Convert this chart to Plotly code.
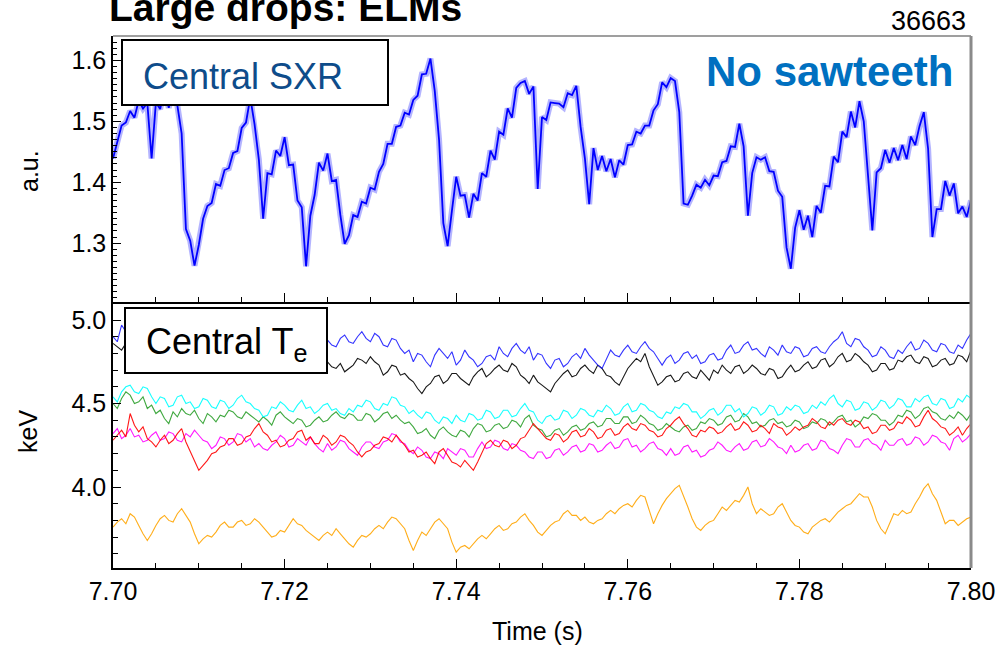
import numpy as np
import plotly.graph_objects as go

# ---- data -------------------------------------------------------------
# central soft X-ray signal (a.u.), sampled every 0.5 ms from 7.700 s
sxr_t0, sxr_dt = 7.700, 0.0005
sxr = [
    1.439, 1.467, 1.493, 1.498, 1.517, 1.506, 1.534, 1.521, 1.530, 1.439,
    1.531, 1.520, 1.556, 1.522, 1.563, 1.526, 1.480, 1.323, 1.304, 1.263,
    1.297, 1.340, 1.361, 1.366, 1.397, 1.394, 1.420, 1.423, 1.448, 1.451,
    1.489, 1.498, 1.539, 1.495, 1.437, 1.340, 1.415, 1.413, 1.452, 1.443,
    1.474, 1.428, 1.429, 1.370, 1.359, 1.262, 1.345, 1.379, 1.432, 1.419,
    1.447, 1.402, 1.404, 1.346, 1.299, 1.313, 1.346, 1.343, 1.368, 1.365,
    1.391, 1.388, 1.417, 1.430, 1.463, 1.463, 1.491, 1.493, 1.514, 1.511,
    1.535, 1.542, 1.577, 1.578, 1.603, 1.550, 1.470, 1.333, 1.295, 1.353,
    1.409, 1.378, 1.379, 1.342, 1.381, 1.370, 1.415, 1.409, 1.452, 1.437,
    1.483, 1.478, 1.521, 1.506, 1.555, 1.563, 1.566, 1.545, 1.557, 1.389,
    1.507, 1.502, 1.531, 1.530, 1.529, 1.523, 1.546, 1.543, 1.558, 1.491,
    1.439, 1.364, 1.456, 1.420, 1.443, 1.418, 1.438, 1.408, 1.436, 1.429,
    1.461, 1.462, 1.483, 1.480, 1.493, 1.493, 1.518, 1.528, 1.564, 1.556,
    1.571, 1.566, 1.515, 1.365, 1.363, 1.378, 1.396, 1.391, 1.404, 1.395,
    1.411, 1.410, 1.433, 1.435, 1.459, 1.458, 1.496, 1.459, 1.345, 1.415,
    1.441, 1.437, 1.441, 1.418, 1.417, 1.386, 1.376, 1.293, 1.258, 1.325,
    1.354, 1.322, 1.345, 1.310, 1.361, 1.350, 1.394, 1.393, 1.442, 1.433,
    1.483, 1.474, 1.516, 1.490, 1.533, 1.500, 1.415, 1.321, 1.416, 1.423,
    1.453, 1.432, 1.456, 1.436, 1.461, 1.438, 1.475, 1.461, 1.492, 1.515,
    1.455, 1.310, 1.356, 1.356, 1.402, 1.378, 1.398, 1.349, 1.360, 1.343,
    1.370,
]

# central electron temperature channels (keV), sampled every 0.5 ms
te_t0, te_dt = 7.700, 0.0005
te_blue = [
    4.90, 4.87, 4.97, 4.93, 4.88, 4.85, 4.93, 4.95, 4.86, 4.83,
    4.90, 4.93, 4.84, 4.87, 4.89, 4.84, 4.86, 4.89, 4.91, 4.87,
    4.85, 4.82, 4.88, 4.91, 4.83, 4.86, 4.90, 4.86, 4.86, 4.89,
    4.84, 4.88, 4.89, 4.86, 4.85, 4.90, 4.88, 4.84, 4.83, 4.86,
    4.87, 4.83, 4.84, 4.88, 4.89, 4.86, 4.85, 4.81, 4.82, 4.86,
    4.88, 4.85, 4.84, 4.89, 4.91, 4.87, 4.86, 4.90, 4.93, 4.89,
    4.87, 4.92, 4.90, 4.85, 4.84, 4.89, 4.88, 4.83, 4.80, 4.82,
    4.75, 4.80, 4.79, 4.75, 4.72, 4.79, 4.83, 4.80, 4.77, 4.81,
    4.73, 4.76, 4.82, 4.78, 4.76, 4.72, 4.74, 4.78, 4.79, 4.76,
    4.84, 4.80, 4.78, 4.83, 4.86, 4.82, 4.80, 4.84, 4.76, 4.80,
    4.79, 4.74, 4.71, 4.76, 4.77, 4.72, 4.74, 4.78, 4.80, 4.77,
    4.83, 4.79, 4.76, 4.73, 4.71, 4.77, 4.82, 4.79, 4.78, 4.82,
    4.85, 4.81, 4.80, 4.84, 4.87, 4.83, 4.81, 4.77, 4.73, 4.77,
    4.79, 4.74, 4.76, 4.80, 4.81, 4.77, 4.79, 4.74, 4.75, 4.79,
    4.80, 4.76, 4.77, 4.82, 4.85, 4.80, 4.81, 4.85, 4.87, 4.82,
    4.83, 4.80, 4.78, 4.84, 4.82, 4.79, 4.85, 4.81, 4.80, 4.84,
    4.83, 4.78, 4.79, 4.83, 4.84, 4.81, 4.80, 4.84, 4.87, 4.89,
    4.93, 4.86, 4.84, 4.89, 4.88, 4.84, 4.82, 4.78, 4.79, 4.84,
    4.82, 4.78, 4.77, 4.82, 4.80, 4.84, 4.87, 4.82, 4.83, 4.88,
    4.86, 4.82, 4.81, 4.86, 4.85, 4.81, 4.80, 4.85, 4.83, 4.88,
    4.92,
]
te_black = [
    4.86, 4.84, 4.82, 4.86, 4.88, 4.83, 4.80, 4.85, 4.83, 4.80,
    4.78, 4.82, 4.81, 4.79, 4.77, 4.81, 4.80, 4.77, 4.76, 4.80,
    4.79, 4.77, 4.75, 4.79, 4.78, 4.76, 4.81, 4.78, 4.76, 4.80,
    4.79, 4.76, 4.74, 4.77, 4.78, 4.76, 4.75, 4.80, 4.79, 4.77,
    4.76, 4.79, 4.80, 4.77, 4.75, 4.79, 4.78, 4.74, 4.73, 4.77,
    4.75, 4.72, 4.71, 4.74, 4.69, 4.71, 4.73, 4.77, 4.76, 4.74,
    4.78, 4.75, 4.73, 4.67, 4.69, 4.73, 4.72, 4.67, 4.68, 4.65,
    4.63, 4.59, 4.56, 4.60, 4.62, 4.66, 4.67, 4.62, 4.64, 4.68,
    4.68, 4.65, 4.63, 4.61, 4.66, 4.69, 4.71, 4.66, 4.68, 4.71,
    4.73, 4.70, 4.69, 4.74, 4.72, 4.67, 4.65, 4.62, 4.67, 4.63,
    4.61, 4.59, 4.57, 4.62, 4.65, 4.68, 4.70, 4.66, 4.67, 4.71,
    4.73, 4.70, 4.68, 4.73, 4.71, 4.67, 4.66, 4.63, 4.61, 4.66,
    4.71, 4.74, 4.77, 4.75, 4.80, 4.72, 4.66, 4.61, 4.63, 4.66,
    4.67, 4.63, 4.64, 4.68, 4.69, 4.66, 4.65, 4.70, 4.67, 4.64,
    4.70, 4.68, 4.73, 4.70, 4.68, 4.72, 4.73, 4.68, 4.70, 4.73,
    4.71, 4.68, 4.67, 4.71, 4.70, 4.65, 4.66, 4.70, 4.73, 4.69,
    4.70, 4.73, 4.75, 4.71, 4.72, 4.76, 4.77, 4.72, 4.74, 4.78,
    4.80, 4.75, 4.76, 4.80, 4.78, 4.75, 4.73, 4.69, 4.70, 4.74,
    4.74, 4.70, 4.71, 4.76, 4.75, 4.78, 4.79, 4.75, 4.74, 4.78,
    4.77, 4.72, 4.73, 4.76, 4.77, 4.73, 4.74, 4.79, 4.78, 4.75,
    4.82,
]
te_cyan = [
    4.54, 4.51, 4.57, 4.60, 4.61, 4.57, 4.56, 4.60, 4.59, 4.54,
    4.50, 4.54, 4.53, 4.48, 4.49, 4.54, 4.55, 4.50, 4.51, 4.47,
    4.48, 4.53, 4.52, 4.48, 4.47, 4.52, 4.51, 4.47, 4.49, 4.53,
    4.55, 4.51, 4.50, 4.47, 4.46, 4.42, 4.43, 4.48, 4.47, 4.51,
    4.49, 4.46, 4.45, 4.49, 4.52, 4.47, 4.48, 4.44, 4.46, 4.49,
    4.50, 4.46, 4.47, 4.44, 4.43, 4.47, 4.45, 4.49, 4.48, 4.52,
    4.51, 4.47, 4.46, 4.50, 4.49, 4.54, 4.53, 4.49, 4.48, 4.44,
    4.46, 4.43, 4.41, 4.45, 4.44, 4.40, 4.38, 4.42, 4.41, 4.38,
    4.43, 4.40, 4.39, 4.44, 4.43, 4.40, 4.41, 4.46, 4.45, 4.41,
    4.42, 4.46, 4.46, 4.42, 4.43, 4.47, 4.50, 4.46, 4.45, 4.40,
    4.38, 4.42, 4.43, 4.40, 4.41, 4.46, 4.45, 4.41, 4.43, 4.47,
    4.46, 4.43, 4.42, 4.46, 4.45, 4.49, 4.47, 4.43, 4.44, 4.48,
    4.50, 4.45, 4.46, 4.50, 4.49, 4.46, 4.45, 4.42, 4.41, 4.45,
    4.44, 4.48, 4.47, 4.50, 4.49, 4.45, 4.45, 4.41, 4.43, 4.46,
    4.47, 4.43, 4.45, 4.49, 4.49, 4.45, 4.47, 4.42, 4.44, 4.48,
    4.47, 4.43, 4.45, 4.49, 4.48, 4.43, 4.44, 4.48, 4.46, 4.49,
    4.48, 4.44, 4.45, 4.49, 4.47, 4.51, 4.49, 4.53, 4.55, 4.50,
    4.48, 4.52, 4.51, 4.46, 4.47, 4.51, 4.50, 4.46, 4.48, 4.52,
    4.51, 4.47, 4.49, 4.53, 4.52, 4.48, 4.48, 4.53, 4.51, 4.54,
    4.55, 4.50, 4.49, 4.53, 4.52, 4.47, 4.48, 4.53, 4.51, 4.55,
    4.53,
]
te_green = [
    4.50, 4.47, 4.53, 4.57, 4.55, 4.50, 4.51, 4.54, 4.47, 4.49,
    4.44, 4.46, 4.41, 4.38, 4.45, 4.42, 4.47, 4.44, 4.43, 4.46,
    4.41, 4.38, 4.44, 4.42, 4.39, 4.43, 4.42, 4.46, 4.45, 4.42,
    4.41, 4.45, 4.43, 4.41, 4.39, 4.42, 4.40, 4.37, 4.43, 4.45,
    4.42, 4.40, 4.38, 4.41, 4.40, 4.36, 4.37, 4.40, 4.42, 4.39,
    4.40, 4.43, 4.45, 4.42, 4.41, 4.44, 4.43, 4.40, 4.40, 4.44,
    4.43, 4.39, 4.41, 4.44, 4.45, 4.41, 4.43, 4.40, 4.38, 4.39,
    4.36, 4.32, 4.33, 4.35, 4.31, 4.29, 4.34, 4.36, 4.33, 4.31,
    4.30, 4.34, 4.33, 4.30, 4.35, 4.38, 4.37, 4.33, 4.34, 4.37,
    4.38, 4.35, 4.36, 4.40, 4.39, 4.36, 4.41, 4.43, 4.37, 4.35,
    4.34, 4.30, 4.31, 4.34, 4.35, 4.31, 4.33, 4.36, 4.37, 4.34,
    4.35, 4.38, 4.39, 4.36, 4.37, 4.41, 4.41, 4.38, 4.38, 4.42,
    4.42, 4.38, 4.39, 4.43, 4.41, 4.38, 4.37, 4.34, 4.35, 4.38,
    4.36, 4.34, 4.33, 4.36, 4.37, 4.34, 4.35, 4.39, 4.38, 4.41,
    4.40, 4.37, 4.38, 4.42, 4.43, 4.39, 4.40, 4.44, 4.42, 4.38,
    4.39, 4.36, 4.37, 4.40, 4.41, 4.38, 4.39, 4.36, 4.37, 4.40,
    4.39, 4.35, 4.36, 4.39, 4.38, 4.41, 4.40, 4.37, 4.39, 4.42,
    4.43, 4.39, 4.40, 4.36, 4.38, 4.42, 4.41, 4.44, 4.43, 4.40,
    4.40, 4.37, 4.39, 4.43, 4.42, 4.46, 4.45, 4.41, 4.43, 4.47,
    4.48, 4.45, 4.44, 4.41, 4.40, 4.43, 4.41, 4.45, 4.43, 4.40,
    4.44,
]
te_red = [
    4.28, 4.31, 4.34, 4.30, 4.44, 4.37, 4.33, 4.36, 4.29, 4.27,
    4.24, 4.28, 4.31, 4.26, 4.28, 4.32, 4.35, 4.27, 4.21, 4.15,
    4.10, 4.13, 4.16, 4.20, 4.21, 4.24, 4.25, 4.29, 4.29, 4.25,
    4.26, 4.30, 4.31, 4.35, 4.38, 4.33, 4.31, 4.27, 4.28, 4.24,
    4.25, 4.28, 4.29, 4.33, 4.34, 4.28, 4.30, 4.26, 4.26, 4.31,
    4.29, 4.25, 4.27, 4.31, 4.30, 4.27, 4.25, 4.21, 4.18, 4.21,
    4.22, 4.25, 4.26, 4.30, 4.29, 4.27, 4.31, 4.28, 4.25, 4.21,
    4.22, 4.18, 4.19, 4.21, 4.17, 4.14, 4.21, 4.23, 4.19, 4.15,
    4.14, 4.12, 4.16, 4.13, 4.10, 4.15, 4.21, 4.26, 4.28, 4.25,
    4.24, 4.28, 4.27, 4.23, 4.25, 4.29, 4.30, 4.34, 4.38, 4.35,
    4.32, 4.29, 4.28, 4.32, 4.31, 4.27, 4.29, 4.33, 4.34, 4.30,
    4.31, 4.35, 4.33, 4.29, 4.30, 4.34, 4.35, 4.31, 4.32, 4.36,
    4.38, 4.35, 4.34, 4.38, 4.37, 4.34, 4.33, 4.30, 4.31, 4.35,
    4.37, 4.40, 4.42, 4.38, 4.35, 4.31, 4.30, 4.34, 4.33, 4.36,
    4.35, 4.32, 4.33, 4.36, 4.38, 4.34, 4.35, 4.39, 4.37, 4.33,
    4.34, 4.37, 4.35, 4.32, 4.38, 4.36, 4.35, 4.31, 4.33, 4.36,
    4.34, 4.36, 4.37, 4.41, 4.39, 4.36, 4.35, 4.39, 4.37, 4.40,
    4.41, 4.38, 4.37, 4.40, 4.39, 4.35, 4.36, 4.32, 4.33, 4.37,
    4.37, 4.34, 4.35, 4.39, 4.38, 4.42, 4.40, 4.36, 4.37, 4.42,
    4.46, 4.41, 4.39, 4.36, 4.35, 4.31, 4.33, 4.36, 4.31, 4.35,
    4.38,
]
te_magenta = [
    4.32, 4.35, 4.29, 4.31, 4.35, 4.30, 4.31, 4.27, 4.28, 4.31,
    4.33, 4.28, 4.29, 4.33, 4.32, 4.28, 4.27, 4.32, 4.30, 4.34,
    4.31, 4.28, 4.27, 4.23, 4.25, 4.30, 4.29, 4.25, 4.27, 4.32,
    4.31, 4.27, 4.29, 4.24, 4.26, 4.23, 4.22, 4.25, 4.27, 4.31,
    4.29, 4.24, 4.25, 4.29, 4.27, 4.25, 4.30, 4.26, 4.23, 4.21,
    4.26, 4.22, 4.24, 4.28, 4.27, 4.23, 4.21, 4.19, 4.24, 4.27,
    4.27, 4.24, 4.23, 4.27, 4.28, 4.32, 4.31, 4.27, 4.26, 4.22,
    4.20, 4.24, 4.22, 4.18, 4.17, 4.21, 4.20, 4.17, 4.23, 4.21,
    4.19, 4.23, 4.22, 4.18, 4.18, 4.23, 4.27, 4.23, 4.24, 4.28,
    4.27, 4.23, 4.22, 4.26, 4.25, 4.22, 4.21, 4.18, 4.17, 4.21,
    4.21, 4.17, 4.18, 4.22, 4.23, 4.19, 4.21, 4.24, 4.25, 4.21,
    4.22, 4.26, 4.25, 4.21, 4.22, 4.25, 4.27, 4.23, 4.24, 4.28,
    4.29, 4.24, 4.25, 4.21, 4.23, 4.26, 4.27, 4.23, 4.22, 4.19,
    4.23, 4.19, 4.20, 4.24, 4.25, 4.21, 4.22, 4.18, 4.19, 4.22,
    4.23, 4.27, 4.25, 4.22, 4.21, 4.24, 4.26, 4.22, 4.23, 4.27,
    4.28, 4.24, 4.25, 4.29, 4.27, 4.24, 4.23, 4.20, 4.25, 4.21,
    4.22, 4.25, 4.26, 4.22, 4.23, 4.28, 4.27, 4.23, 4.22, 4.20,
    4.25, 4.29, 4.28, 4.24, 4.24, 4.28, 4.29, 4.26, 4.25, 4.22,
    4.28, 4.25, 4.25, 4.28, 4.29, 4.25, 4.26, 4.30, 4.29, 4.25,
    4.27, 4.31, 4.30, 4.27, 4.26, 4.22, 4.29, 4.31, 4.27, 4.29,
    4.32,
]
te_orange = [
    3.76, 3.79, 3.81, 3.78, 3.84, 3.82, 3.77, 3.72, 3.68, 3.72,
    3.77, 3.81, 3.83, 3.80, 3.79, 3.84, 3.87, 3.83, 3.79, 3.72,
    3.66, 3.69, 3.71, 3.70, 3.73, 3.77, 3.79, 3.76, 3.76, 3.79,
    3.80, 3.77, 3.78, 3.81, 3.79, 3.76, 3.73, 3.70, 3.71, 3.74,
    3.73, 3.77, 3.81, 3.78, 3.77, 3.74, 3.72, 3.70, 3.68, 3.71,
    3.73, 3.71, 3.75, 3.72, 3.69, 3.66, 3.64, 3.68, 3.71, 3.70,
    3.72, 3.75, 3.77, 3.75, 3.79, 3.82, 3.81, 3.78, 3.75, 3.68,
    3.62, 3.68, 3.73, 3.71, 3.75, 3.79, 3.81, 3.78, 3.75, 3.67,
    3.61, 3.64, 3.65, 3.63, 3.66, 3.69, 3.71, 3.69, 3.72, 3.75,
    3.77, 3.74, 3.75, 3.78, 3.79, 3.82, 3.84, 3.80, 3.77, 3.73,
    3.71, 3.74, 3.77, 3.79, 3.80, 3.84, 3.86, 3.83, 3.83, 3.80,
    3.82, 3.79, 3.78, 3.80, 3.81, 3.84, 3.86, 3.84, 3.87, 3.89,
    3.90, 3.88, 3.92, 3.95, 3.94, 3.86, 3.78, 3.84, 3.89, 3.93,
    3.96, 3.99, 4.01, 3.95, 3.88, 3.81, 3.76, 3.74, 3.77, 3.79,
    3.80, 3.84, 3.88, 3.86, 3.89, 3.92, 3.91, 3.95, 4.00, 3.90,
    3.84, 3.87, 3.85, 3.83, 3.84, 3.88, 3.90, 3.85, 3.80, 3.77,
    3.76, 3.73, 3.72, 3.76, 3.78, 3.80, 3.81, 3.79, 3.82, 3.85,
    3.87, 3.89, 3.90, 3.93, 3.96, 3.94, 3.94, 3.88, 3.80, 3.75,
    3.72, 3.78, 3.84, 3.83, 3.86, 3.84, 3.85, 3.90, 3.94, 3.99,
    4.02, 3.96, 3.92, 3.85, 3.78, 3.80, 3.80, 3.77, 3.79, 3.81,
    3.82,
]

# drawing order of the temperature channels (last one on top)
te_series = [
    ("black", te_black), ("#1f1fff", te_blue), ("#ffa500", te_orange),
    ("#2ca02c", te_green), ("#00ffff", te_cyan), ("#ff00ff", te_magenta),
    ("#ff0000", te_red),
]

x_ticks = [7.70, 7.72, 7.74, 7.76, 7.78, 7.80]
sxr_ticks = [1.3, 1.4, 1.5, 1.6]
te_ticks = [4.0, 4.5, 5.0]


def time_axis(t0, dt, n):
    return np.round(t0 + dt * np.arange(n), 5)


# ---- figure -------------------------------------------------------------
W, H = 996, 645
ML, MR, MT, MB = 113, 25, 36, 77
PW, PH = W - ML - MR, H - MT - MB


def px(x):
    return (x - ML) / PW


def py(y):
    return (H - MB - y) / PH


fig = go.Figure()

t_sxr = time_axis(sxr_t0, sxr_dt, len(sxr))
# soft halo under the SXR trace gives the fuzzy band of a densely sampled signal
fig.add_trace(go.Scatter(x=t_sxr, y=sxr, mode="lines", xaxis="x2", yaxis="y2",
                         line=dict(color="rgba(40,40,255,0.35)", width=6),
                         hoverinfo="skip", showlegend=False))
fig.add_trace(go.Scatter(x=t_sxr, y=sxr, mode="lines", xaxis="x2", yaxis="y2",
                         line=dict(color="#0000ff", width=1.8), showlegend=False))

for col, vals in te_series:
    fig.add_trace(go.Scatter(x=time_axis(te_t0, te_dt, len(vals)), y=vals, mode="lines",
                             xaxis="x", yaxis="y",
                             line=dict(color=col, width=1.1), opacity=0.9,
                             showlegend=False))

tick_font = dict(family="Liberation Sans, Arial, sans-serif", size=25, color="black")
axis_common = dict(showgrid=False, zeroline=False, showline=True, linecolor="black",
                   linewidth=1.5, ticks="inside", tickcolor="black", tickwidth=1.2,
                   automargin=False)

fig.update_layout(
    width=W, height=H, autosize=False,
    margin=dict(l=ML, r=MR, t=MT, b=MB, autoexpand=False),
    paper_bgcolor="white", plot_bgcolor="white",
    xaxis=dict(**axis_common, domain=[0, 1], range=[7.70, 7.80], anchor="y",
               tickvals=x_ticks, tickformat=".2f", ticklen=9,
               minor=dict(dtick=0.005, ticklen=5, ticks="inside", tickcolor="black"),
               tickfont=tick_font),
    xaxis2=dict(**axis_common, domain=[0, 1], range=[7.70, 7.80], anchor="y2",
                matches="x", tickvals=x_ticks, ticklen=9, showticklabels=False,
                minor=dict(dtick=0.005, ticklen=5, ticks="inside", tickcolor="black")),
    yaxis=dict(**axis_common, domain=[0, 0.5], range=[3.515, 5.108], anchor="x",
               tickvals=te_ticks, tickformat=".1f", ticklen=8,
               minor=dict(dtick=0.1, ticklen=5, ticks="inside", tickcolor="black"),
               tickfont=tick_font),
    yaxis2=dict(**axis_common, domain=[0.5, 1], range=[1.2034, 1.640], anchor="x2",
                tickvals=sxr_ticks, tickformat=".1f", ticklen=8,
                minor=dict(dtick=0.01, ticklen=4, ticks="inside", tickcolor="black"),
                tickfont=tick_font),
)

# frame: grey top and right edges
fig.add_shape(type="line", xref="paper", yref="paper", x0=0, x1=1, y0=1, y1=1,
              line=dict(color="#7f7f7f", width=1.5), layer="above")
fig.add_shape(type="line", xref="paper", yref="paper", x0=1, x1=1, y0=0, y1=1,
              line=dict(color="#8a8a8a", width=3), layer="above")

# label boxes
fig.add_shape(type="rect", xref="paper", yref="paper",
              x0=px(122), x1=px(388), y0=py(105), y1=py(40),
              fillcolor="white", line=dict(color="black", width=2), layer="above")
fig.add_shape(type="rect", xref="paper", yref="paper",
              x0=px(125), x1=px(327), y0=py(373), y1=py(308),
              fillcolor="white", line=dict(color="black", width=2), layer="above")

sans = "Liberation Sans, Arial, sans-serif"
fig.add_annotation(text="Central SXR", xref="paper", yref="paper", x=px(141), y=py(76),
                   xanchor="left", yanchor="middle", showarrow=False,
                   font=dict(family=sans, size=36, color="#0e4c8a"))
fig.add_annotation(text="Central T<sub>e</sub>", xref="paper", yref="paper",
                   x=px(144), y=py(344), xanchor="left", yanchor="middle", showarrow=False,
                   font=dict(family=sans, size=36, color="black"))
fig.add_annotation(text="<b>No sawteeth</b>", xref="paper", yref="paper", x=px(829),
                   y=py(71), xanchor="center", yanchor="middle", showarrow=False,
                   font=dict(family=sans, size=42, color="#0070c0"))
fig.add_annotation(text="<b>Large drops: ELMs</b>", xref="paper", yref="paper",
                   x=px(285), y=py(31), xanchor="center", yanchor="bottom",
                   showarrow=False, font=dict(family=sans, size=39, color="black"))
fig.add_annotation(text="36663", xref="paper", yref="paper", x=px(968), y=py(38),
                   xanchor="right", yanchor="bottom", showarrow=False,
                   font=dict(family=sans, size=27, color="black"))

# axis titles
fig.add_annotation(text="a.u.", xref="paper", yref="paper", x=px(29), y=py(171),
                   textangle=-90, xanchor="center", yanchor="middle", showarrow=False,
                   font=dict(family=sans, size=25, color="black"))
fig.add_annotation(text="keV", xref="paper", yref="paper", x=px(28), y=py(432),
                   textangle=-90, xanchor="center", yanchor="middle", showarrow=False,
                   font=dict(family=sans, size=25, color="black"))
fig.add_annotation(text="Time (s)", xref="paper", yref="paper", x=px(537), y=py(631),
                   xanchor="center", yanchor="middle", showarrow=False,
                   font=dict(family=sans, size=25, color="black"))

fig.write_html("out.html")
